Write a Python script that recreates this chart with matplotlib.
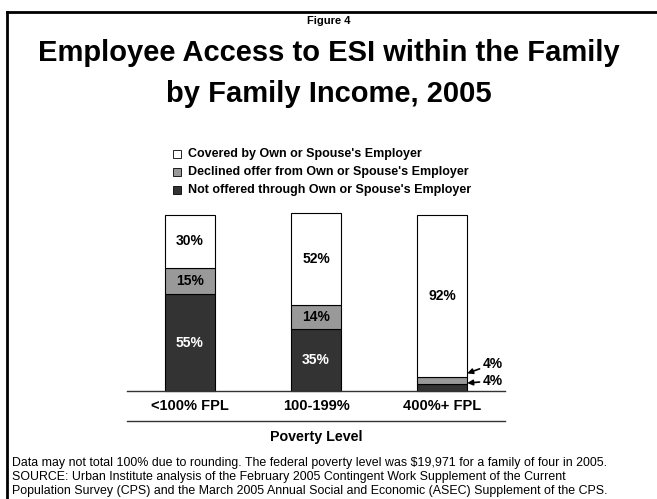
import matplotlib
matplotlib.use("Agg")
import matplotlib.pyplot as plt
from matplotlib.patches import Rectangle
from matplotlib.lines import Line2D

plt.rcParams['font.family'] = ['Liberation Sans', 'DejaVu Sans']

categories = ["<100% FPL", "100-199%", "400%+ FPL"]
not_offered = [55, 35, 4]
declined = [15, 14, 4]
covered = [30, 52, 92]
series_names = ["Covered by Own or Spouse's Employer",
                "Declined offer from Own or Spouse's Employer",
                "Not offered through Own or Spouse's Employer"]
colors = {"covered": "#ffffff", "declined": "#999999", "not": "#333333"}

W, H = 657, 499
fig = plt.figure(figsize=(W / 100, H / 100), dpi=100)
fig.patch.set_facecolor("white")

# frame lines (top and left)
fig.add_artist(Line2D([6.5 / W, 1.0], [1 - 11.5 / H, 1 - 11.5 / H], color="black", lw=2.0))
fig.add_artist(Line2D([6.5 / W, 6.5 / W], [0, 1 - 11.5 / H], color="black", lw=2.0))

# titles
fig.text(0.5, 1 - 21 / H, "Figure 4", ha="center", va="center", fontsize=8, fontweight="bold")
fig.text(0.5, 1 - 53 / H, "Employee Access to ESI within the Family", ha="center", va="center",
         fontsize=21, fontweight="bold")
fig.text(0.5, 1 - 94 / H, "by Family Income, 2005", ha="center", va="center",
         fontsize=21, fontweight="bold")

# plot area
left_px, right_px, top_px, base_px = 127, 505, 215, 391
ax = fig.add_axes([left_px / W, 1 - base_px / H, (right_px - left_px) / W, (base_px - top_px) / H])
ax.set_xlim(-0.5, 2.5)
ax.set_ylim(0, 100)
for s in ["top", "right", "left"]:
    ax.spines[s].set_visible(False)
ax.spines["bottom"].set_linewidth(1.0)
ax.spines["bottom"].set_color("#333333")
ax.set_xticks([])
ax.set_yticks([])
ax.patch.set_alpha(0)

x = list(range(len(categories)))
bw = 0.4
bottoms2 = not_offered
bottoms3 = [a + b for a, b in zip(not_offered, declined)]
kw = dict(edgecolor="black", linewidth=0.8, clip_on=False)
ax.bar(x, not_offered, bw, color=colors["not"], **kw)
ax.bar(x, declined, bw, bottom=bottoms2, color=colors["declined"], **kw)
ax.bar(x, covered, bw, bottom=bottoms3, color=colors["covered"], **kw)

lab_fs = 10
for i in range(2):
    ax.text(x[i], not_offered[i] / 2, f"{not_offered[i]}%", ha="center", va="center",
            color="white", fontsize=lab_fs, fontweight="bold")
    ax.text(x[i], bottoms2[i] + declined[i] / 2, f"{declined[i]}%", ha="center", va="center",
            color="black", fontsize=lab_fs, fontweight="bold")
for i in range(3):
    ax.text(x[i], bottoms3[i] + covered[i] / 2, f"{covered[i]}%", ha="center", va="center",
            color="black", fontsize=lab_fs, fontweight="bold")

# small segments labelled outside with arrows
i = 2
arrow = dict(arrowstyle="-|>", color="black", lw=1.2, mutation_scale=8, shrinkA=0, shrinkB=0)
ax.annotate(f"{declined[i]}%", xy=(x[i] + bw / 2, bottoms2[i] + declined[i] + 2),
            xytext=(x[i] + bw / 2 + 0.12, 15.3),
            ha="left", va="center", fontsize=lab_fs, fontweight="bold", arrowprops=arrow)
ax.annotate(f"{not_offered[i]}%", xy=(x[i] + bw / 2, not_offered[i] + 0.5),
            xytext=(x[i] + bw / 2 + 0.12, 5.7),
            ha="left", va="center", fontsize=lab_fs, fontweight="bold", arrowprops=arrow)

# category labels and separator line
cat_y = -(406 - base_px) / (base_px - top_px)
for i, c in enumerate(categories):
    ax.text(x[i], cat_y, c, transform=ax.get_xaxis_transform(), ha="center", va="center",
            fontsize=10.5, fontweight="bold")
fig.add_artist(Line2D([left_px / W, right_px / W], [1 - 421 / H, 1 - 421 / H], color="#333333", lw=1.0))
fig.text((left_px + right_px) / 2 / W, 1 - 437 / H, "Poverty Level", ha="center", va="center",
         fontsize=10.3, fontweight="bold")

# legend
leg_x, text_x = 177, 188
leg_rows = [154, 172, 190]
leg_cols = [colors["covered"], colors["declined"], colors["not"]]
for y, name, col in zip(leg_rows, series_names, leg_cols):
    fig.add_artist(Rectangle(((leg_x - 4) / W, 1 - (y + 4) / H), 8 / W, 8 / H,
                             facecolor=col, edgecolor="black", lw=0.6))
    fig.text(text_x / W, 1 - y / H, name, ha="left", va="center", fontsize=9, fontweight="bold")

# footnotes
notes = ["Data may not total 100% due to rounding. The federal poverty level was $19,971 for a family of four in 2005.",
         "SOURCE: Urban Institute analysis of the February 2005 Contingent Work Supplement of the Current",
         "Population Survey (CPS) and the March 2005 Annual Social and Economic (ASEC) Supplement of the CPS."]
for k, n in enumerate(notes):
    fig.text(12 / W, 1 - (463 + 14 * k) / H, n, ha="left", va="center", fontsize=8.9)

fig.savefig("out.png", dpi=100)
